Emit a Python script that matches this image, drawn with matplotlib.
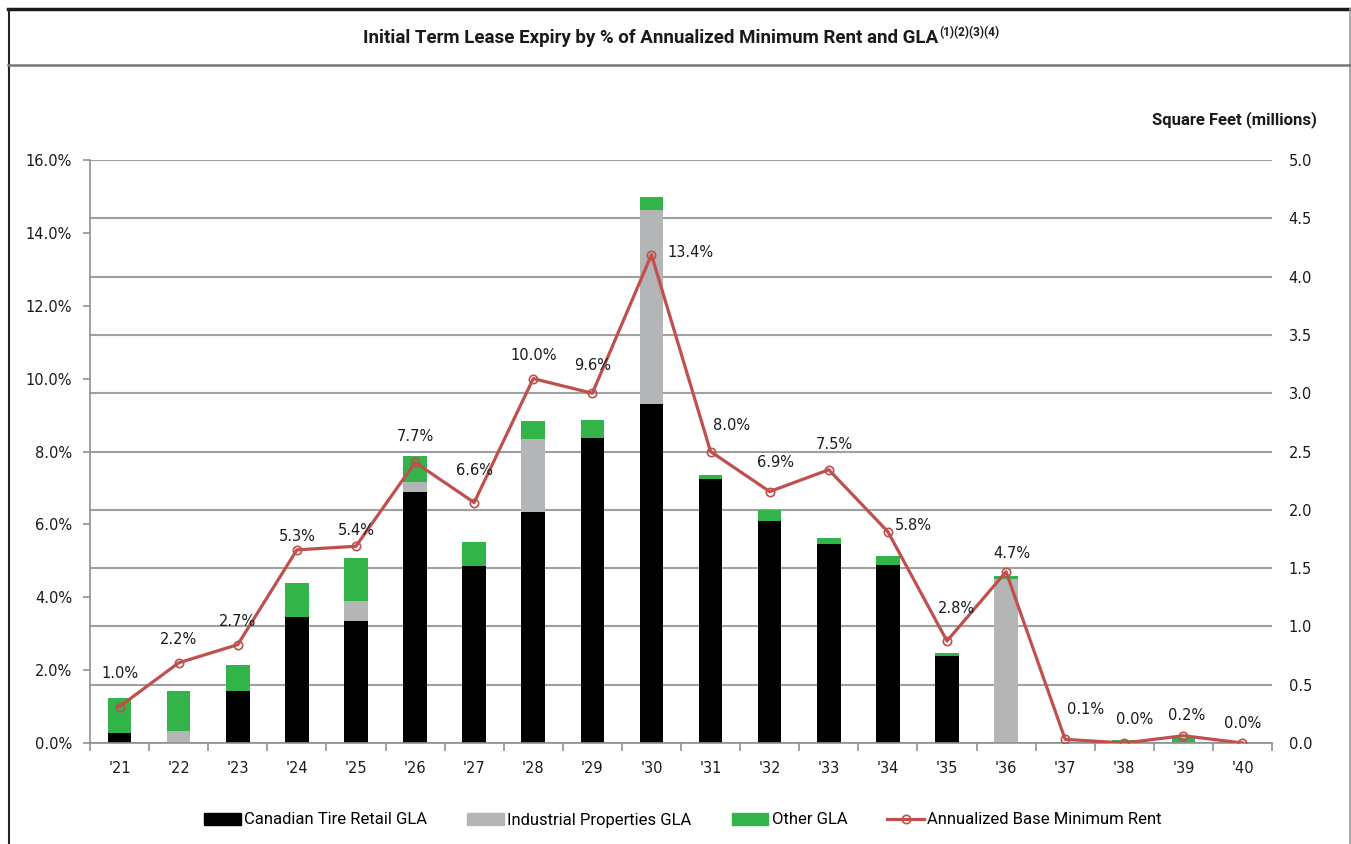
import numpy as np
import matplotlib
matplotlib.use("Agg")
import matplotlib.pyplot as plt
from matplotlib.lines import Line2D
from matplotlib.patches import Patch

years = ["'21", "'22", "'23", "'24", "'25", "'26", "'27", "'28", "'29", "'30",
         "'31", "'32", "'33", "'34", "'35", "'36", "'37", "'38", "'39", "'40"]
# square feet, millions
ctr_gla = [0.09, 0.00, 0.45, 1.08, 1.05, 2.15, 1.52, 1.98, 2.62, 2.91,
           2.26, 1.90, 1.71, 1.53, 0.75, 0.00, 0.00, 0.00, 0.00, 0.00]
industrial_gla = [0.00, 0.10, 0.00, 0.00, 0.17, 0.09, 0.00, 0.63, 0.00, 1.66,
                  0.00, 0.00, 0.00, 0.00, 0.00, 1.41, 0.00, 0.00, 0.00, 0.00]
other_gla = [0.30, 0.35, 0.22, 0.29, 0.37, 0.22, 0.20, 0.15, 0.15, 0.11,
             0.04, 0.10, 0.05, 0.07, 0.02, 0.02, 0.01, 0.03, 0.04, 0.00]
# % of annualized base minimum rent
rent_pct = [1.0, 2.2, 2.7, 5.3, 5.4, 7.7, 6.6, 10.0, 9.6, 13.4,
            8.0, 6.9, 7.5, 5.8, 2.8, 4.7, 0.1, 0.0, 0.2, 0.0]

# label offsets from the point, pixels
lbl_off = [(0, 33), (0, 23), (0, 23), (0, 13), (0, 16), (0, 26), (0, 32), (0, 23), (0, 28), (39, 2),
           (21, 26), (6, 29), (6, 25), (25, 6), (9, 32), (6, 18), (20, 30), (10, 23), (3, 20), (0, 19)]

BLACK, GRAY, GREEN, RED = "#000000", "#b3b5b6", "#33b44a", "#c0504d"
TXT = "#1a1a1a"
BASE = "DejaVu Sans"
narrow = ["Roboto", "DejaVu Sans"]

plt.rcParams["font.family"] = [BASE]

fig = plt.figure(figsize=(13.51, 8.44), dpi=100)
W, H = 1351, 844
ax = fig.add_axes([90 / W, 1 - 743 / H, (1272 - 90) / W, (743 - 160) / H])
ax2 = ax.twinx()

x = np.arange(len(years))
ctr = np.array(ctr_gla)
ind = np.array(industrial_gla)
oth = np.array(other_gla)
bw = 0.4
ax2.bar(x, ctr, bw, color=BLACK, zorder=2)
ax2.bar(x, ind, bw, bottom=ctr, color=GRAY, zorder=2)
ax2.bar(x, oth, bw, bottom=ctr + ind, color=GREEN, zorder=2)
ax2.set_ylim(0, 5.0)
ax2.set_yticks(np.arange(0, 5.01, 0.5))
ax2.set_yticklabels([f"{v:.1f}" for v in np.arange(0, 5.01, 0.5)], fontfamily=BASE)
ax2.yaxis.grid(True, color="#a0a0a0", linewidth=1.5)
ax2.set_axisbelow(True)
ax2.tick_params(axis="y", length=0, pad=12, labelsize=10.5, labelcolor=TXT)

ax.plot(x, rent_pct, color=RED, linewidth=2.3, marker="o", markersize=6,
        markerfacecolor="none", markeredgecolor=RED, markeredgewidth=1.2, zorder=3)
for xi, v, (dx, dy) in zip(x, rent_pct, lbl_off):
    ax.annotate(f"{v:.1f}%", (xi, v), xytext=(dx, dy), textcoords="offset pixels",
                ha="center", va="center", fontsize=10.5, color=TXT, fontfamily=BASE)

ax.set_ylim(0, 16)
ax.set_yticks(np.arange(0, 16.1, 2))
ax.set_yticklabels([f"{v:.1f}%" for v in np.arange(0, 16.1, 2)], fontfamily=BASE)
ax.set_xlim(-0.5, len(years) - 0.5)
ax.set_xticks(x)
ax.set_xticklabels(years, fontfamily=BASE)
ax.set_xticks(np.arange(-0.5, len(years), 1), minor=True)
ax.tick_params(axis="x", which="major", length=0, pad=13, labelsize=10.5, labelcolor=TXT)
ax.tick_params(axis="x", which="minor", length=6, width=1.2, color="#909090", direction="out")
ax.tick_params(axis="y", length=5, width=1.2, color="#909090", pad=8, labelsize=10.5, labelcolor=TXT)

ax.set_zorder(ax2.get_zorder() + 1)
ax.patch.set_visible(False)
for a in (ax, ax2):
    for s in ("top", "right", "left", "bottom"):
        a.spines[s].set_visible(False)
for s in ("left", "bottom"):
    ax.spines[s].set_visible(True)
    ax.spines[s].set_color("#909090")
    ax.spines[s].set_linewidth(1.2)

# frame around the chart
def fl(x0, y0, x1, y1, c, lw):
    fig.add_artist(Line2D([x0 / W, x1 / W], [1 - y0 / H, 1 - y1 / H], color=c, linewidth=lw))

fl(8, 9, 1351, 9, "#1a1a1a", 2.5)
fl(9, 9, 9, 844, "#222222", 1.5)
fl(1349.5, 9, 1349.5, 844, "#999999", 1.2)
fl(8, 65, 1351, 65, "#777777", 1.8)

t = fig.text(651 / W, 1 - 38 / H, "Initial Term Lease Expiry by % of Annualized Minimum Rent and GLA",
             ha="center", va="center", fontsize=13.5, fontweight="bold", family=narrow, color=TXT)
fig.canvas.draw()
bb = t.get_window_extent()
fig.text((bb.x1 + 1) / W, 1 - 33 / H, "(1)(2)(3)(4)", ha="left", va="center",
         fontsize=8.5, fontweight="bold", family=narrow, color=TXT)

fig.text(1317 / W, 1 - 120 / H, "Square Feet (millions)", ha="right", va="center",
         fontsize=12, fontweight="bold", family=narrow, color=TXT)

handles = [Patch(color=BLACK), Patch(color=GRAY), Patch(color=GREEN),
           Line2D([], [], color=RED, linewidth=2.3, marker="o", markersize=6,
                  markerfacecolor="none", markeredgewidth=1.2)]
labels = ["Canadian Tire Retail GLA", "Industrial Properties GLA", "Other GLA",
          "Annualized Base Minimum Rent"]
fig.legend(handles, labels, loc="center", bbox_to_anchor=(683 / W, 1 - 820 / H), ncol=4,
           frameon=False, prop={"family": narrow, "size": 12}, handlelength=2.2,
           handleheight=0.7, handletextpad=0.2, columnspacing=2.4)

fig.savefig("out.png", dpi=100)
